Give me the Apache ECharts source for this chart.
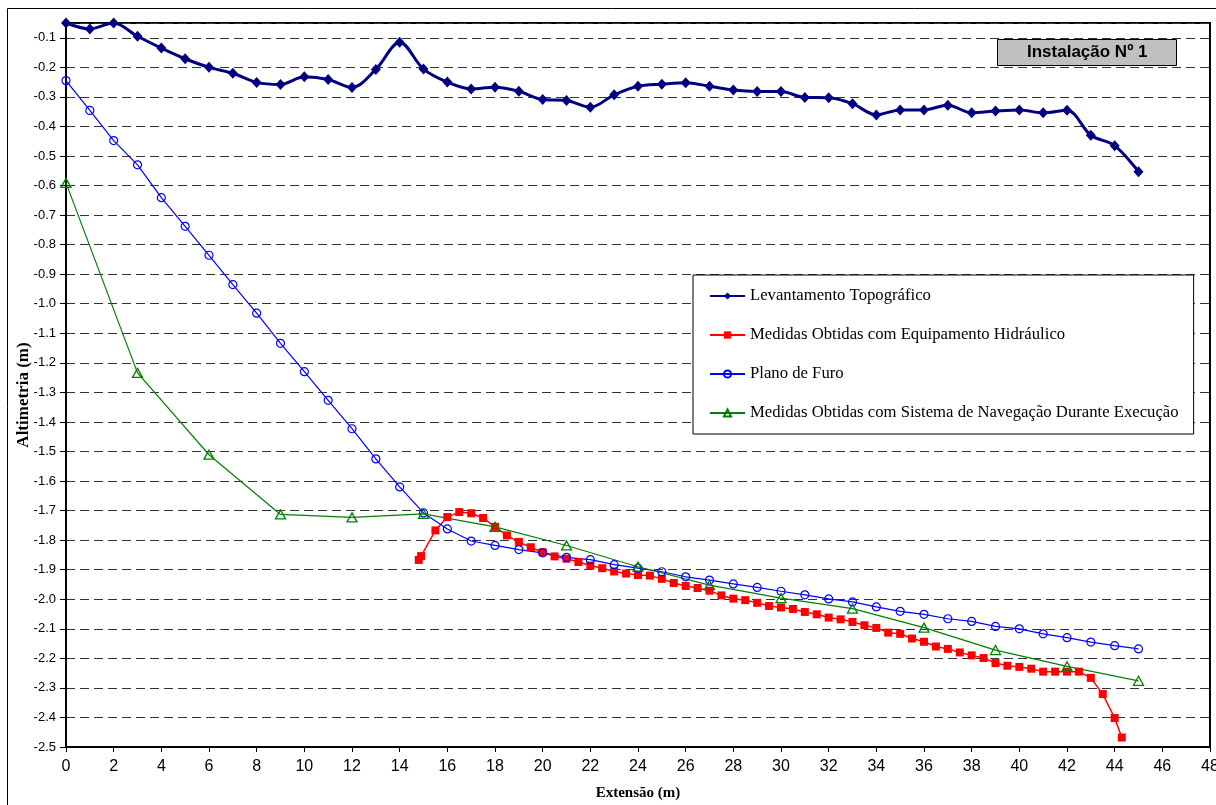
<!DOCTYPE html>
<html>
<head>
<meta charset="utf-8">
<script src="https://cdn.jsdelivr.net/npm/echarts@6/dist/echarts.min.js"></script>
<style>
  html, body { margin: 0; padding: 0; background: #fff; }
  #chart { width: 1216px; height: 805px; }
</style>
</head>
<body>
<div id="chart"></div>
<script>
// Levantamento topográfico (terreno), 1 m spacing
const topoX = [0,1,2,3,4,5,6,7,8,9,10,11,12,13,14,15,16,17,18,19,20,21,22,23,24,25,26,27,28,29,30,31,32,33,34,35,36,37,38,39,40,41,42,43,44,45];
const topoY = [-0.05,-0.07,-0.05,-0.095,-0.135,-0.171,-0.200,-0.220,-0.251,-0.258,-0.232,-0.241,-0.268,-0.207,-0.115,-0.206,-0.250,-0.273,-0.267,-0.281,-0.309,-0.312,-0.335,-0.293,-0.264,-0.257,-0.252,-0.264,-0.277,-0.282,-0.282,-0.302,-0.303,-0.323,-0.361,-0.344,-0.344,-0.328,-0.354,-0.348,-0.344,-0.354,-0.345,-0.430,-0.465,-0.553];

// Medidas obtidas com equipamento hidráulico
const hidrX = [14.8,14.9,15.5,16,16.5,17,17.5,18,18.5,19,19.5,20,20.5,21,21.5,22,22.5,23,23.5,24,24.5,25,25.5,26,26.5,27,27.5,28,28.5,29,29.5,30,30.5,31,31.5,32,32.5,33,33.5,34,34.5,35,35.5,36,36.5,37,37.5,38,38.5,39,39.5,40,40.5,41,41.5,42,42.5,43,43.5,44,44.3];
const hidrY = [-1.867,-1.854,-1.767,-1.722,-1.705,-1.709,-1.725,-1.755,-1.784,-1.806,-1.824,-1.841,-1.855,-1.863,-1.874,-1.886,-1.895,-1.906,-1.913,-1.918,-1.920,-1.931,-1.945,-1.955,-1.962,-1.971,-1.987,-1.998,-2.003,-2.012,-2.023,-2.028,-2.033,-2.043,-2.051,-2.062,-2.068,-2.077,-2.088,-2.097,-2.113,-2.117,-2.133,-2.144,-2.160,-2.168,-2.180,-2.190,-2.199,-2.216,-2.225,-2.229,-2.235,-2.245,-2.245,-2.245,-2.245,-2.266,-2.321,-2.402,-2.468];

// Plano de furo
const planoX = [0,1,2,3,4,5,6,7,8,9,10,11,12,13,14,15,16,17,18,19,20,21,22,23,24,25,26,27,28,29,30,31,32,33,34,35,36,37,38,39,40,41,42,43,44,45];
const planoY = [-0.245,-0.346,-0.448,-0.530,-0.641,-0.738,-0.836,-0.935,-1.032,-1.134,-1.230,-1.327,-1.423,-1.525,-1.620,-1.708,-1.762,-1.803,-1.818,-1.832,-1.843,-1.858,-1.866,-1.883,-1.895,-1.907,-1.924,-1.935,-1.948,-1.960,-1.973,-1.985,-1.999,-2.009,-2.026,-2.041,-2.051,-2.066,-2.075,-2.092,-2.100,-2.117,-2.130,-2.145,-2.157,-2.168];

// Medidas obtidas com sistema de navegação durante execução
const navX = [0,3,6,9,12,15,18,21,24,27,30,33,36,39,42,45];
const navY = [-0.591,-1.234,-1.511,-1.713,-1.723,-1.711,-1.755,-1.818,-1.890,-1.952,-1.996,-2.032,-2.096,-2.172,-2.227,-2.276];

const seriesNames = [
  'Levantamento Topográfico',
  'Medidas Obtidas com Equipamento Hidráulico',
  'Plano de Furo',
  'Medidas Obtidas com Sistema de Navegação Durante Execução'
];

const xAxisRange = { min: 0, max: 48, step: 2 };
const yAxisRange = { min: -2.5, max: -0.05, step: 0.1 };

function pairs(xs, ys) {
  return xs.map((x, i) => [x, ys[i]]);
}

const chart = echarts.init(document.getElementById('chart'), null, { renderer: 'canvas' });

chart.setOption({
  animation: false,
  backgroundColor: '#ffffff',
  title: {
    text: 'Instalação Nº 1',
    left: 997,
    top: 39,
    padding: [5, 29, 5, 30],
    backgroundColor: '#c0c0c0',
    borderColor: '#000',
    borderWidth: 1,
    textStyle: {
      fontFamily: 'Liberation Sans, Arial, sans-serif',
      fontWeight: 'bold',
      fontSize: 17,
      lineHeight: 17,
      color: '#000'
    }
  },
  graphic: [{
    type: 'rect',
    silent: true,
    z: -10,
    shape: { x: 7.5, y: 8.5, width: 1400, height: 1000 },
    style: { fill: 'none', stroke: '#000', lineWidth: 1 }
  }],
  legend: {
    orient: 'vertical',
    left: 693,
    top: 275,
    padding: [11, 15, 11, 16],
    itemGap: 19,
    itemWidth: 35,
    itemHeight: 9,
    backgroundColor: '#fff',
    borderColor: '#000',
    borderWidth: 1,
    textStyle: {
      fontFamily: 'Liberation Serif, Times New Roman, serif',
      fontSize: 16.7,
      lineHeight: 20,
      color: '#000'
    },
    data: seriesNames
  },
  grid: {
    left: 66,
    right: 6,
    top: 23,
    bottom: 58,
    outerBoundsMode: 'none',
    show: true,
    borderColor: '#000',
    borderWidth: 2,
    backgroundColor: '#fff'
  },
  xAxis: {
    type: 'value',
    min: xAxisRange.min,
    max: xAxisRange.max,
    interval: xAxisRange.step,
    name: 'Extensão (m)',
    nameLocation: 'middle',
    nameGap: 39,
    nameMoveOverlap: false,
    nameTextStyle: {
      fontFamily: 'Liberation Serif, Times New Roman, serif',
      fontWeight: 'bold',
      fontSize: 15,
      color: '#000'
    },
    axisLine: { show: true, onZero: false, lineStyle: { color: '#000', width: 2 } },
    axisTick: { show: true, inside: false, length: 5, lineStyle: { color: '#000' } },
    axisLabel: {
      margin: 12,
      fontFamily: 'Liberation Sans Narrow, Arial Narrow, Liberation Sans, sans-serif',
      fontSize: 16,
      color: '#000'
    },
    splitLine: { show: false }
  },
  yAxis: {
    type: 'value',
    min: yAxisRange.min,
    max: yAxisRange.max,
    interval: yAxisRange.step,
    name: 'Altimetria (m)',
    nameLocation: 'middle',
    nameGap: 34,
    nameMoveOverlap: false,
    nameTextStyle: {
      fontFamily: 'Liberation Serif, Times New Roman, serif',
      fontWeight: 'bold',
      fontSize: 17,
      padding: [0, 20, 0, 0],
      color: '#000'
    },
    axisLine: { show: true, onZero: false, lineStyle: { color: '#000', width: 2 } },
    axisTick: { show: true, inside: false, length: 6, lineStyle: { color: '#000' } },
    axisLabel: {
      margin: 10,
      showMaxLabel: false,
      fontFamily: 'Liberation Sans, Arial, sans-serif',
      fontSize: 13,
      color: '#000',
      formatter: v => v.toFixed(1)
    },
    splitLine: {
      show: true,
      lineStyle: { color: '#333', width: 1, type: [9, 5] }
    }
  },
  series: [
    {
      name: seriesNames[0],
      type: 'line',
      data: pairs(topoX, topoY),
      smooth: 0.33,
      symbol: 'diamond',
      symbolSize: [10, 11],
      lineStyle: { color: '#000080', width: 3 },
      itemStyle: { color: '#000080' }
    },
    {
      name: seriesNames[1],
      type: 'line',
      data: pairs(hidrX, hidrY),
      symbol: 'rect',
      symbolSize: 8,
      lineStyle: { color: '#ff0000', width: 1.5 },
      itemStyle: { color: '#ff0000' }
    },
    {
      name: seriesNames[2],
      type: 'line',
      data: pairs(planoX, planoY),
      symbol: 'circle',
      symbolSize: 8,
      lineStyle: { color: '#0000ff', width: 1.2 },
      itemStyle: { color: 'rgba(255,255,255,0)', borderColor: '#0000ff', borderWidth: 1.2 }
    },
    {
      name: seriesNames[3],
      type: 'line',
      data: pairs(navX, navY),
      symbol: 'triangle',
      symbolSize: [10, 9],
      lineStyle: { color: '#008000', width: 1.2 },
      itemStyle: { color: 'rgba(255,255,255,0)', borderColor: '#008000', borderWidth: 1.3 }
    }
  ]
});
</script>
</body>
</html>
